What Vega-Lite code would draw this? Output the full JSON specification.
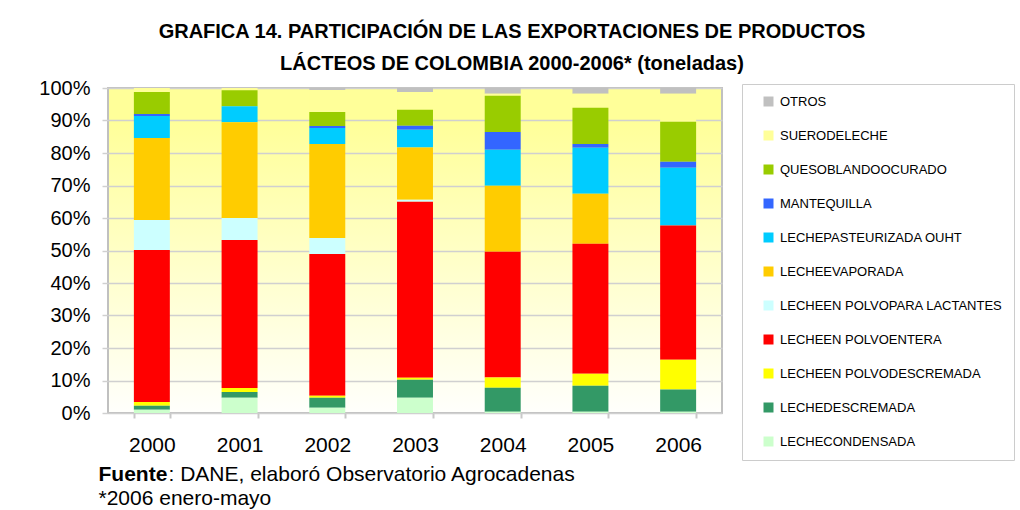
{
  "$schema": "https://vega.github.io/schema/vega-lite/v6.json",
  "autosize": {"type": "none"},
  "padding": {"left": 108, "top": 88, "right": 298, "bottom": 97},
  "width": 614,
  "height": 325,
  "background": "white",
  "title": {
    "text": ["GRAFICA 14. PARTICIPACIÓN DE LAS EXPORTACIONES DE PRODUCTOS", "LÁCTEOS DE COLOMBIA 2000-2006* (toneladas)"],
    "font": "Liberation Sans",
    "fontSize": 20,
    "fontWeight": "bold",
    "color": "#000000",
    "anchor": "middle",
    "frame": "group",
    "dx": 97,
    "offset": 4,
    "lineHeight": 32
  },
  "view": {
    "fill": {"expr": "({gradient: 'linear', x1: 0, y1: 0, x2: 0, y2: 1, stops: [{offset: 0, color: '#ffff99'}, {offset: 0.1, color: '#ffff99'}, {offset: 1, color: '#fffffc'}]})"},
    "stroke": "#c0c0c0",
    "strokeWidth": 2
  },
  "data": {
    "values": [
      {"year": "2000", "p": "OTROS", "v": 0},
      {"year": "2000", "p": "SUERODELECHE", "v": 1.2},
      {"year": "2000", "p": "QUESOBLANDOOCURADO", "v": 6.8},
      {"year": "2000", "p": "MANTEQUILLA", "v": 0.6},
      {"year": "2000", "p": "LECHEPASTEURIZADA OUHT", "v": 6.8},
      {"year": "2000", "p": "LECHEEVAPORADA", "v": 25.2},
      {"year": "2000", "p": "LECHEEN POLVOPARA LACTANTES", "v": 9.2},
      {"year": "2000", "p": "LECHEEN POLVOENTERA", "v": 46.7},
      {"year": "2000", "p": "LECHEEN POLVODESCREMADA", "v": 1.2},
      {"year": "2000", "p": "LECHEDESCREMADA", "v": 1.2},
      {"year": "2000", "p": "LECHECONDENSADA", "v": 1.0},

      {"year": "2001", "p": "OTROS", "v": 0},
      {"year": "2001", "p": "SUERODELECHE", "v": 0.7},
      {"year": "2001", "p": "QUESOBLANDOOCURADO", "v": 4.9},
      {"year": "2001", "p": "MANTEQUILLA", "v": 0},
      {"year": "2001", "p": "LECHEPASTEURIZADA OUHT", "v": 4.9},
      {"year": "2001", "p": "LECHEEVAPORADA", "v": 29.5},
      {"year": "2001", "p": "LECHEEN POLVOPARA LACTANTES", "v": 6.8},
      {"year": "2001", "p": "LECHEEN POLVOENTERA", "v": 45.5},
      {"year": "2001", "p": "LECHEEN POLVODESCREMADA", "v": 1.2},
      {"year": "2001", "p": "LECHEDESCREMADA", "v": 1.8},
      {"year": "2001", "p": "LECHECONDENSADA", "v": 4.7},

      {"year": "2002", "p": "OTROS", "v": 0.6},
      {"year": "2002", "p": "SUERODELECHE", "v": 6.8},
      {"year": "2002", "p": "QUESOBLANDOOCURADO", "v": 4.3},
      {"year": "2002", "p": "MANTEQUILLA", "v": 0.6},
      {"year": "2002", "p": "LECHEPASTEURIZADA OUHT", "v": 4.9},
      {"year": "2002", "p": "LECHEEVAPORADA", "v": 28.9},
      {"year": "2002", "p": "LECHEEN POLVOPARA LACTANTES", "v": 4.9},
      {"year": "2002", "p": "LECHEEN POLVOENTERA", "v": 43.6},
      {"year": "2002", "p": "LECHEEN POLVODESCREMADA", "v": 0.6},
      {"year": "2002", "p": "LECHEDESCREMADA", "v": 3.1},
      {"year": "2002", "p": "LECHECONDENSADA", "v": 1.6},

      {"year": "2003", "p": "OTROS", "v": 1.2},
      {"year": "2003", "p": "SUERODELECHE", "v": 5.5},
      {"year": "2003", "p": "QUESOBLANDOOCURADO", "v": 4.9},
      {"year": "2003", "p": "MANTEQUILLA", "v": 1.2},
      {"year": "2003", "p": "LECHEPASTEURIZADA OUHT", "v": 5.5},
      {"year": "2003", "p": "LECHEEVAPORADA", "v": 16.0},
      {"year": "2003", "p": "LECHEEN POLVOPARA LACTANTES", "v": 0.6},
      {"year": "2003", "p": "LECHEEN POLVOENTERA", "v": 54.1},
      {"year": "2003", "p": "LECHEEN POLVODESCREMADA", "v": 0.6},
      {"year": "2003", "p": "LECHEDESCREMADA", "v": 5.5},
      {"year": "2003", "p": "LECHECONDENSADA", "v": 4.7},

      {"year": "2004", "p": "OTROS", "v": 1.8},
      {"year": "2004", "p": "SUERODELECHE", "v": 0.6},
      {"year": "2004", "p": "QUESOBLANDOOCURADO", "v": 11.1},
      {"year": "2004", "p": "MANTEQUILLA", "v": 5.5},
      {"year": "2004", "p": "LECHEPASTEURIZADA OUHT", "v": 11.1},
      {"year": "2004", "p": "LECHEEVAPORADA", "v": 20.3},
      {"year": "2004", "p": "LECHEEN POLVOPARA LACTANTES", "v": 0},
      {"year": "2004", "p": "LECHEEN POLVOENTERA", "v": 38.7},
      {"year": "2004", "p": "LECHEEN POLVODESCREMADA", "v": 3.1},
      {"year": "2004", "p": "LECHEDESCREMADA", "v": 7.4},
      {"year": "2004", "p": "LECHECONDENSADA", "v": 0.4},

      {"year": "2005", "p": "OTROS", "v": 1.8},
      {"year": "2005", "p": "SUERODELECHE", "v": 4.3},
      {"year": "2005", "p": "QUESOBLANDOOCURADO", "v": 11.1},
      {"year": "2005", "p": "MANTEQUILLA", "v": 1.2},
      {"year": "2005", "p": "LECHEPASTEURIZADA OUHT", "v": 14.1},
      {"year": "2005", "p": "LECHEEVAPORADA", "v": 15.4},
      {"year": "2005", "p": "LECHEEN POLVOPARA LACTANTES", "v": 0},
      {"year": "2005", "p": "LECHEEN POLVOENTERA", "v": 40.0},
      {"year": "2005", "p": "LECHEEN POLVODESCREMADA", "v": 3.7},
      {"year": "2005", "p": "LECHEDESCREMADA", "v": 8.0},
      {"year": "2005", "p": "LECHECONDENSADA", "v": 0.4},

      {"year": "2006", "p": "OTROS", "v": 1.8},
      {"year": "2006", "p": "SUERODELECHE", "v": 8.6},
      {"year": "2006", "p": "QUESOBLANDOOCURADO", "v": 12.3},
      {"year": "2006", "p": "MANTEQUILLA", "v": 1.8},
      {"year": "2006", "p": "LECHEPASTEURIZADA OUHT", "v": 17.8},
      {"year": "2006", "p": "LECHEEVAPORADA", "v": 0},
      {"year": "2006", "p": "LECHEEN POLVOPARA LACTANTES", "v": 0},
      {"year": "2006", "p": "LECHEEN POLVOENTERA", "v": 41.2},
      {"year": "2006", "p": "LECHEEN POLVODESCREMADA", "v": 9.2},
      {"year": "2006", "p": "LECHEDESCREMADA", "v": 6.8},
      {"year": "2006", "p": "LECHECONDENSADA", "v": 0.4}
    ]
  },
  "transform": [
    {"calculate": "indexof(['LECHECONDENSADA', 'LECHEDESCREMADA', 'LECHEEN POLVODESCREMADA', 'LECHEEN POLVOENTERA', 'LECHEEN POLVOPARA LACTANTES', 'LECHEEVAPORADA', 'LECHEPASTEURIZADA OUHT', 'MANTEQUILLA', 'QUESOBLANDOOCURADO', 'SUERODELECHE', 'OTROS'], datum.p)", "as": "k"}
  ],
  "encoding": {
    "x": {
      "field": "year",
      "type": "ordinal",
      "scale": {"paddingInner": 0.59, "paddingOuter": 0.295},
      "axis": {
        "labelAngle": 0,
        "labelFont": "Liberation Sans",
        "labelFontSize": 21,
        "labelColor": "#000000",
        "labelPadding": 16,
        "tickBand": "extent",
        "tickColor": "#c8c8c8",
        "tickWidth": 2,
        "tickSize": 5,
        "domain": false,
        "title": ": DANE, elaboró Observatorio Agrocadenas",
        "titleFont": "Liberation Sans",
        "titleFontSize": 21,
        "titleFontWeight": "normal",
        "titleColor": "#000000",
        "titleAnchor": "start",
        "titleAlign": "left",
        "titleBaseline": "alphabetic",
        "titleX": 60,
        "titleY": 67
      }
    },
    "order": {"field": "k", "type": "quantitative", "sort": "ascending"},
    "color": {
      "field": "p",
      "type": "nominal",
      "scale": {
        "domain": ["OTROS", "SUERODELECHE", "QUESOBLANDOOCURADO", "MANTEQUILLA", "LECHEPASTEURIZADA OUHT", "LECHEEVAPORADA", "LECHEEN POLVOPARA LACTANTES", "LECHEEN POLVOENTERA", "LECHEEN POLVODESCREMADA", "LECHEDESCREMADA", "LECHECONDENSADA"],
        "range": ["#c0c0c0", "#ffff99", "#99cc00", "#3366ff", "#00ccff", "#ffcc00", "#ccffff", "#ff0000", "#ffff00", "#339966", "#ccffcc"]
      },
      "legend": {
        "orient": "none",
        "legendX": 634,
        "legendY": -4,
        "title": null,
        "symbolType": "square",
        "symbolSize": 100,
        "symbolStrokeWidth": 0,
        "symbolOffset": 9,
        "labelFont": "Liberation Sans",
        "labelFontSize": 13,
        "labelColor": "#000000",
        "labelLimit": 400,
        "labelOffset": 5,
        "rowPadding": 20,
        "padding": 11,
        "strokeColor": "#cccccc",
        "fillColor": "#ffffff"
      }
    }
  },
  "layer": [
    {
      "mark": {"type": "bar", "strokeWidth": 0},
      "encoding": {
        "y": {
          "field": "v",
          "type": "quantitative",
          "stack": "normalize",
          "axis": {
            "orient": "left",
            "values": [0, 0.1, 0.2, 0.3, 0.4, 0.5, 0.6, 0.7, 0.8, 0.9, 1],
            "format": ".0%",
            "labelFont": "Liberation Sans",
            "labelFontSize": 20,
            "labelColor": "#000000",
            "labelPadding": 12,
            "tickSize": 6,
            "tickColor": "#d0d0d0",
            "tickWidth": 1.5,
            "domain": false,
            "grid": true,
            "gridColor": "#d0d0d0",
            "gridWidth": 1.5,
            "title": "Fuente",
            "titleFont": "Liberation Sans",
            "titleFontSize": 21,
            "titleFontWeight": "bold",
            "titleColor": "#000000",
            "titleAngle": 0,
            "titleAlign": "left",
            "titleBaseline": "alphabetic",
            "titleX": -10,
            "titleY": 392
          }
        }
      }
    },
    {
      "mark": {"type": "bar", "strokeWidth": 0, "opacity": 0},
      "encoding": {
        "y": {
          "field": "v",
          "type": "quantitative",
          "stack": "normalize",
          "axis": {
            "orient": "right",
            "labels": false,
            "ticks": false,
            "domain": false,
            "grid": false,
            "title": "*2006 enero-mayo",
            "titleFont": "Liberation Sans",
            "titleFontSize": 21,
            "titleFontWeight": "normal",
            "titleColor": "#000000",
            "titleAngle": 0,
            "titleAlign": "left",
            "titleBaseline": "alphabetic",
            "titleX": -624,
            "titleY": 416
          }
        }
      }
    }
  ],
  "resolve": {"axis": {"y": "independent"}}
}
